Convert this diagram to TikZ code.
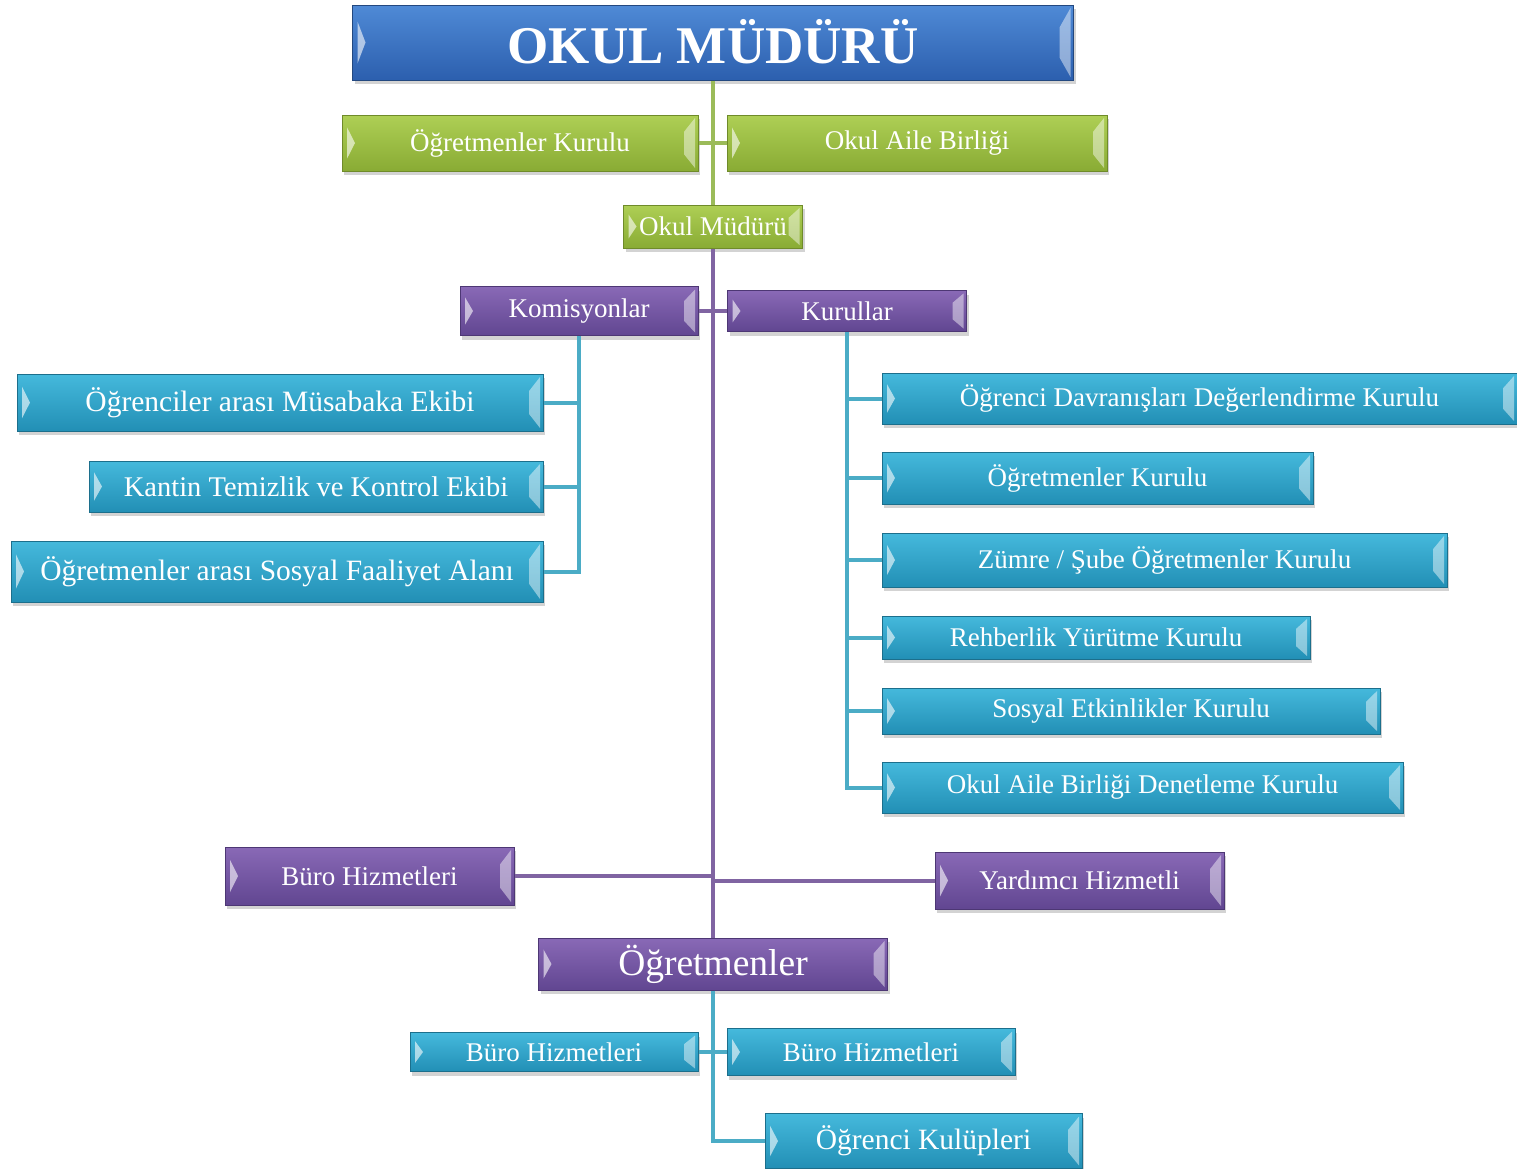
\documentclass[tikz,border=0pt]{standalone}
\usepackage{fontspec}
\setmainfont{Liberation Serif}
\usetikzlibrary{shadows,calc}

\definecolor{bluetp}{HTML}{4F8AD6}
\definecolor{bluebt}{HTML}{2C5FAE}
\definecolor{bluedk}{HTML}{23487F}
\definecolor{greentp}{HTML}{AECF55}
\definecolor{greenbt}{HTML}{89AB34}
\definecolor{greendk}{HTML}{6F8B2A}
\definecolor{purpletp}{HTML}{8969B6}
\definecolor{purplebt}{HTML}{614691}
\definecolor{purpledk}{HTML}{4D3774}
\definecolor{cyantp}{HTML}{45B9DC}
\definecolor{cyanbt}{HTML}{228FB5}
\definecolor{cyandk}{HTML}{1C6F8C}
\definecolor{greenln}{HTML}{9BBB59}
\definecolor{purpleln}{HTML}{8064A2}
\definecolor{cyanln}{HTML}{4BACC6}

\begin{document}
\begin{tikzpicture}[x=1pt,y=-1pt]
   \tikzstyle{unit}=[rectangle, inner sep=0pt, text=white, line width=1pt, font=\fontsize{27pt}{31pt}\selectfont,
      drop shadow={opacity=.35, shadow xshift=2pt, shadow yshift=-4pt},
      path picture={
         \fill[white, fill opacity=.6] ($(path picture bounding box.north west)!.22!(path picture bounding box.south west)+(5pt,0)$) -- ($(path picture bounding box.west)+(13pt,0)$) -- ($(path picture bounding box.north west)!.78!(path picture bounding box.south west)+(5pt,0)$) -- cycle;
         \fill[white, fill opacity=.45] ($(path picture bounding box.north east)+(-3pt,-3pt)$) -- ($(path picture bounding box.north east)!.3!(path picture bounding box.south east)+(-14pt,0)$) -- ($(path picture bounding box.north east)!.7!(path picture bounding box.south east)+(-14pt,0)$) -- ($(path picture bounding box.south east)+(-3pt,3pt)$) -- cycle;
      }]
   \tikzstyle{blue unit}=[unit, draw=bluedk, top color=bluetp, bottom color=bluebt]
   \tikzstyle{green unit}=[unit, draw=greendk, top color=greentp, bottom color=greenbt]
   \tikzstyle{purple unit}=[unit, draw=purpledk, top color=purpletp, bottom color=purplebt]
   \tikzstyle{cyan unit}=[unit, draw=cyandk, top color=cyantp, bottom color=cyanbt]
   \tikzstyle{large}=[font=\fontsize{29.5pt}{34pt}\selectfont]
   \tikzstyle{gline}=[draw=greenln, line width=4pt]
   \tikzstyle{pline}=[draw=purpleln, line width=4pt]
   \tikzstyle{cline}=[draw=cyanln, line width=4pt]

\useasboundingbox (0,0) rectangle (1517,1168);

\node[blue unit, minimum width=721pt, minimum height=75pt, font=\fontsize{53pt}{60pt}\selectfont\bfseries] (mudur) at (713,42.5) {\raisebox{3pt}{OKUL MÜDÜRÜ}};

\node[green unit, minimum width=356pt, minimum height=56pt] (gk1) at (520,143) {Öğretmenler Kurulu};
\node[green unit, minimum width=380pt, minimum height=56pt] (gk2) at (917,143) {Okul Aile Birliği};
\node[green unit, minimum width=179pt, minimum height=43pt] (omud) at (713,226.5) {Okul Müdürü};

\node[purple unit, minimum width=238pt, minimum height=49pt] (kom) at (579,311) {Komisyonlar};
\node[purple unit, minimum width=239pt, minimum height=41pt] (kur) at (847,311) {Kurullar};

\node[cyan unit, large, minimum width=526pt, minimum height=57pt] (c1) at (280,402.5) {Öğrenciler arası Müsabaka Ekibi};
\node[cyan unit, minimum width=454pt, minimum height=51pt, font=\fontsize{28.5pt}{33pt}\selectfont] (c2) at (316,486.5) {Kantin Temizlik ve Kontrol Ekibi};
\node[cyan unit, large, minimum width=532pt, minimum height=61pt] (c3) at (277,571.5) {Öğretmenler arası Sosyal Faaliyet Alanı};

\node[cyan unit, minimum width=635pt, minimum height=51pt] (k1) at (1199.5,398.5) {Öğrenci Davranışları Değerlendirme Kurulu};
\node[cyan unit, minimum width=431pt, minimum height=52pt] (k2) at (1097.5,478) {Öğretmenler Kurulu};
\node[cyan unit, minimum width=565pt, minimum height=54pt] (k3) at (1164.5,560) {Zümre / Şube Öğretmenler Kurulu};
\node[cyan unit, minimum width=428pt, minimum height=43pt] (k4) at (1096,637.5) {Rehberlik Yürütme Kurulu};
\node[cyan unit, minimum width=498pt, minimum height=46pt] (k5) at (1131,711) {Sosyal Etkinlikler Kurulu};
\node[cyan unit, minimum width=521pt, minimum height=51pt] (k6) at (1142.5,787.5) {Okul Aile Birliği Denetleme Kurulu};

\node[purple unit, minimum width=289pt, minimum height=58pt] (buro) at (369.5,876) {Büro Hizmetleri};
\node[purple unit, minimum width=289pt, minimum height=57pt] (yard) at (1079.5,880.5) {Yardımcı Hizmetli};
\node[purple unit, minimum width=349pt, minimum height=52pt, font=\fontsize{37.5pt}{42pt}\selectfont] (ogr) at (713,964) {Öğretmenler};

\node[cyan unit, minimum width=288pt, minimum height=39pt] (b1) at (554,1052) {Büro Hizmetleri};
\node[cyan unit, minimum width=288pt, minimum height=47pt] (b2) at (871,1052) {Büro Hizmetleri};
\node[cyan unit, large, minimum width=317pt, minimum height=55pt] (ocl) at (923.5,1141) {Öğrenci Kulüpleri};

\draw[gline] (mudur) -- (omud);
\draw[gline] (gk1) -- (gk2);
\draw[pline] (omud) -- (ogr);
\draw[pline] (kom) -- (kur);
\draw[pline] (buro) -- (buro -| ogr);
\draw[pline] (yard) -- (yard -| ogr);
\foreach \n in {c1,c2,c3}
   \draw[cline] (kom.south) |- (\n.east);
\foreach \n in {k1,k2,k3,k4,k5,k6}
   \draw[cline] (kur.south) |- (\n.west);
\draw[cline] (b1) -- (b2);
\draw[cline] (ogr.south) |- (ocl.west);

\end{tikzpicture}
\end{document}
